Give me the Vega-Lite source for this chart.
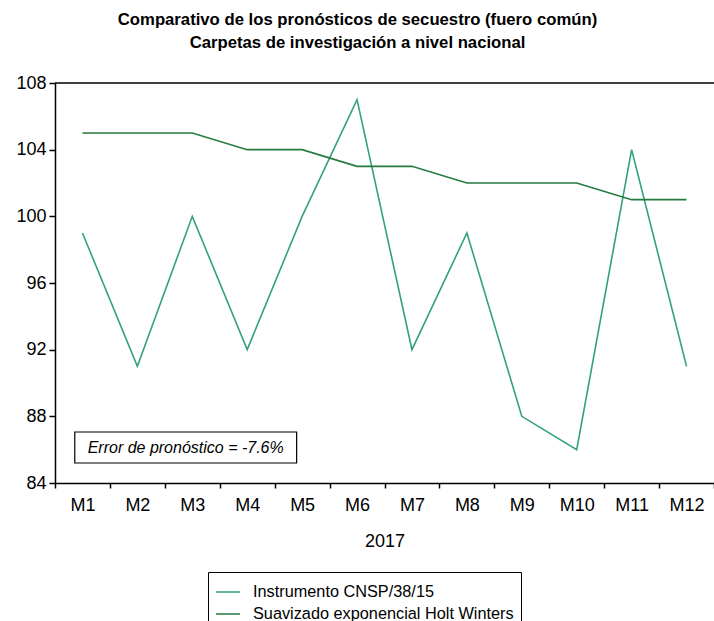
{
  "$schema": "https://vega.github.io/schema/vega-lite/v6.json",
  "width": 659,
  "height": 400,
  "autosize": {"type": "none"},
  "padding": {"left": 55, "top": 83, "right": 0, "bottom": 138},
  "background": "white",
  "config": {"font": "Liberation Sans", "view": {"stroke": null}},
  "title": {
    "text": ["Comparativo de los pronósticos de secuestro (fuero común)", "Carpetas de investigación a nivel nacional"],
    "fontSize": 16.7,
    "fontWeight": "bold",
    "lineHeight": 23,
    "color": "black",
    "anchor": "middle",
    "frame": "group",
    "offset": 22,
    "dx": -27,
    "font": "Liberation Sans"
  },
  "datasets": {
    "series": [
      {"month": "M1", "serie": "Instrumento CNSP/38/15", "value": 99},
      {"month": "M2", "serie": "Instrumento CNSP/38/15", "value": 91},
      {"month": "M3", "serie": "Instrumento CNSP/38/15", "value": 100},
      {"month": "M4", "serie": "Instrumento CNSP/38/15", "value": 92},
      {"month": "M5", "serie": "Instrumento CNSP/38/15", "value": 100},
      {"month": "M6", "serie": "Instrumento CNSP/38/15", "value": 107},
      {"month": "M7", "serie": "Instrumento CNSP/38/15", "value": 92},
      {"month": "M8", "serie": "Instrumento CNSP/38/15", "value": 99},
      {"month": "M9", "serie": "Instrumento CNSP/38/15", "value": 88},
      {"month": "M10", "serie": "Instrumento CNSP/38/15", "value": 86},
      {"month": "M11", "serie": "Instrumento CNSP/38/15", "value": 104},
      {"month": "M12", "serie": "Instrumento CNSP/38/15", "value": 91},
      {"month": "M1", "serie": "Suavizado exponencial Holt Winters", "value": 105},
      {"month": "M2", "serie": "Suavizado exponencial Holt Winters", "value": 105},
      {"month": "M3", "serie": "Suavizado exponencial Holt Winters", "value": 105},
      {"month": "M4", "serie": "Suavizado exponencial Holt Winters", "value": 104},
      {"month": "M5", "serie": "Suavizado exponencial Holt Winters", "value": 104},
      {"month": "M6", "serie": "Suavizado exponencial Holt Winters", "value": 103},
      {"month": "M7", "serie": "Suavizado exponencial Holt Winters", "value": 103},
      {"month": "M8", "serie": "Suavizado exponencial Holt Winters", "value": 102},
      {"month": "M9", "serie": "Suavizado exponencial Holt Winters", "value": 102},
      {"month": "M10", "serie": "Suavizado exponencial Holt Winters", "value": 102},
      {"month": "M11", "serie": "Suavizado exponencial Holt Winters", "value": 101},
      {"month": "M12", "serie": "Suavizado exponencial Holt Winters", "value": 101}
    ],
    "note": [{"label": "Error de pronóstico = -7.6%"}]
  },
  "resolve": {"scale": {"x": "independent"}, "axis": {"x": "independent"}},
  "layer": [
    {
      "data": {"name": "note"},
      "mark": {"type": "rule", "color": "black", "strokeWidth": 1.5},
      "encoding": {"y": {"datum": 108, "type": "quantitative"}}
    },
    {
      "data": {"name": "series"},
      "mark": {"type": "line", "strokeWidth": 1.6},
      "encoding": {
        "x": {
          "field": "month",
          "type": "ordinal",
          "bandPosition": 0.5,
          "sort": ["M1", "M2", "M3", "M4", "M5", "M6", "M7", "M8", "M9", "M10", "M11", "M12"],
          "scale": {"type": "band", "paddingInner": 0, "paddingOuter": 0},
          "axis": {
            "title": "2017",
            "titleFontSize": 18,
            "titleFontWeight": "normal",
            "titleColor": "black",
            "titlePadding": 18,
            "labelAngle": 0,
            "labelFontSize": 18,
            "labelColor": "black",
            "labelPadding": 8,
            "tickBand": "extent",
            "tickSize": 5,
            "tickColor": "black",
            "tickWidth": 1.5,
            "domainColor": "black",
            "domainWidth": 1.5,
            "grid": false
          }
        },
        "y": {
          "field": "value",
          "type": "quantitative",
          "scale": {"domain": [84, 108], "zero": false, "nice": false},
          "axis": {
            "title": null,
            "values": [84, 88, 92, 96, 100, 104, 108],
            "labelFontSize": 18,
            "labelColor": "black",
            "labelPadding": 3,
            "tickSize": 6,
            "tickColor": "black",
            "tickWidth": 1.5,
            "domainColor": "black",
            "domainWidth": 1.5,
            "grid": false
          }
        },
        "color": {
          "field": "serie",
          "type": "nominal",
          "scale": {
            "domain": ["Instrumento CNSP/38/15", "Suavizado exponencial Holt Winters"],
            "range": ["#33a07f", "#257a3f"]
          },
          "legend": {
            "orient": "none",
            "legendX": 153,
            "legendY": 489,
            "title": null,
            "strokeColor": "black",
            "fillColor": "white",
            "padding": 7,
            "symbolType": "stroke",
            "symbolSize": 576,
            "symbolStrokeWidth": 1.5,
            "labelFontSize": 16.3,
            "labelColor": "black",
            "labelOffset": 12,
            "labelLimit": 0,
            "rowPadding": 0
          }
        }
      }
    },
    {
      "data": {"name": "note"},
      "mark": {"type": "rect", "fill": "white", "stroke": "black", "strokeWidth": 1.2},
      "encoding": {
        "x": {"datum": 0.36, "type": "quantitative", "scale": {"domain": [0, 12]}, "axis": null},
        "x2": {"datum": 4.4},
        "y": {"datum": 85.2, "type": "quantitative"},
        "y2": {"datum": 87.06}
      }
    },
    {
      "data": {"name": "note"},
      "mark": {"type": "text", "fontSize": 16, "fontStyle": "italic", "color": "black", "align": "center", "baseline": "middle"},
      "encoding": {
        "x": {"datum": 2.38, "type": "quantitative", "scale": {"domain": [0, 12]}, "axis": null},
        "y": {"datum": 86.13, "type": "quantitative"},
        "text": {"field": "label"}
      }
    }
  ]
}
